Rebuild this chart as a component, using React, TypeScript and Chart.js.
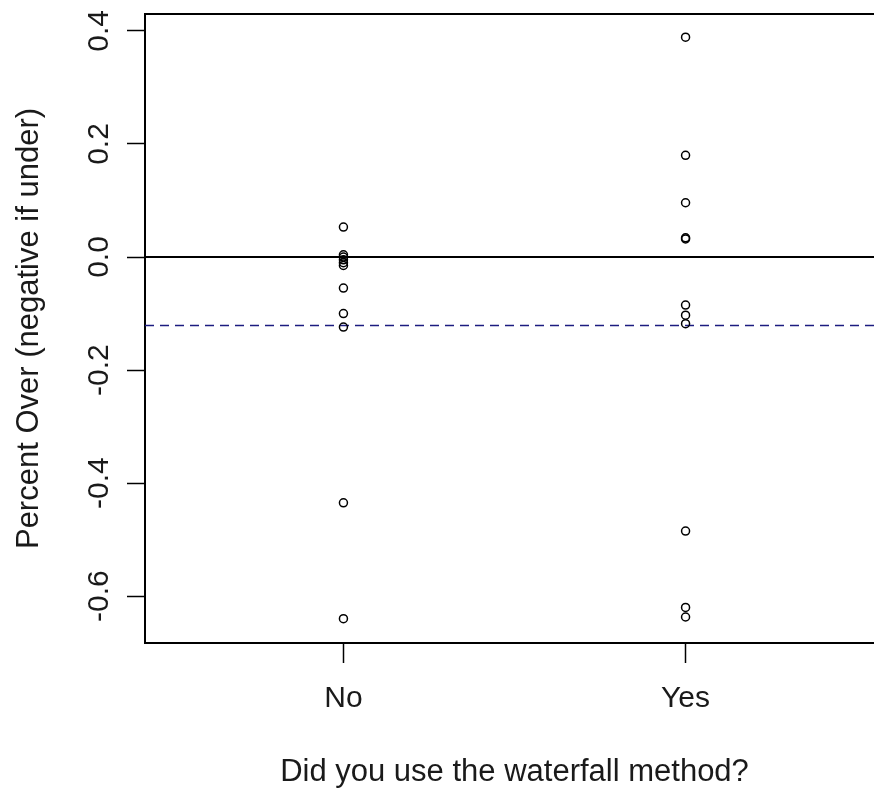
import React, { useEffect, useRef } from "react";
import { Chart, registerables } from "chart.js";

Chart.register(...registerables);

// ---- data ----
const categories = ["No", "Yes"];
const noValues = [0.053, 0.004, 0.0, -0.005, -0.01, -0.015, -0.055, -0.1, -0.124, -0.435, -0.64];
const yesValues = [0.389, 0.18, 0.096, 0.034, 0.032, -0.085, -0.103, -0.118, -0.485, -0.62, -0.637];
const yTickValues = [-0.6, -0.4, -0.2, 0.0, 0.2, 0.4];
const yTickLabels = ["-0.6", "-0.4", "-0.2", "0.0", "0.2", "0.4"];
const zeroLine = 0;
const meanLine = -0.12;
const xTitle = "Did you use the waterfall method?";
const yTitle = "Percent Over (negative if under)";

const FONT = "'Liberation Sans', Arial, sans-serif";
const TEXT = "#1a1a1a";

const refLinesPlugin = {
  id: "refLines",
  beforeDatasetsDraw(chart: any) {
    const { ctx, chartArea, scales } = chart;
    const y = scales.y;
    ctx.save();
    // zero line
    ctx.strokeStyle = "#000";
    ctx.lineWidth = 2;
    ctx.setLineDash([]);
    let py = Math.round(y.getPixelForValue(zeroLine));
    ctx.beginPath();
    ctx.moveTo(chartArea.left, py);
    ctx.lineTo(chartArea.right, py);
    ctx.stroke();
    // mean line
    ctx.strokeStyle = "#1c1c80";
    ctx.lineWidth = 1.6;
    ctx.setLineDash([9, 6]);
    py = Math.round(y.getPixelForValue(meanLine)) + 0.5;
    ctx.beginPath();
    ctx.moveTo(chartArea.left, py);
    ctx.lineTo(chartArea.right, py);
    ctx.stroke();
    ctx.restore();
  },
  afterDraw(chart: any) {
    const { ctx, chartArea, scales } = chart;
    const y = scales.y;
    ctx.save();
    // top border of plot box
    ctx.strokeStyle = "#000";
    ctx.lineWidth = 2;
    ctx.beginPath();
    ctx.moveTo(chartArea.left - 1, chartArea.top);
    ctx.lineTo(chartArea.right + 20, chartArea.top);
    ctx.stroke();
    // rotated y tick labels
    ctx.fillStyle = TEXT;
    ctx.font = `30px ${FONT}`;
    ctx.textAlign = "center";
    ctx.textBaseline = "alphabetic";
    yTickValues.forEach((v, i) => {
      const py = y.getPixelForValue(v);
      ctx.save();
      ctx.translate(108, py);
      ctx.rotate(-Math.PI / 2);
      ctx.fillText(yTickLabels[i], 0, 0);
      ctx.restore();
    });
    // y title
    ctx.font = `31px ${FONT}`;
    ctx.save();
    ctx.translate(38, (chartArea.top + chartArea.bottom) / 2);
    ctx.rotate(-Math.PI / 2);
    ctx.fillText(yTitle, 0, 0);
    ctx.restore();
    ctx.restore();
  },
};

export default function App() {
  const ref = useRef<HTMLCanvasElement | null>(null);

  useEffect(() => {
    if (!ref.current) return;
    const chart = new Chart(ref.current, {
      type: "scatter",
      data: {
        datasets: [
          {
            label: categories[0],
            data: noValues.map((v) => ({ x: 1, y: v })),
          },
          {
            label: categories[1],
            data: yesValues.map((v) => ({ x: 2, y: v })),
          },
        ],
      },
      options: {
        responsive: false,
        animation: false,
        devicePixelRatio: 1,
        layout: { padding: { top: 14, right: 16, left: 0, bottom: 0 } },
        elements: {
          point: {
            pointStyle: "circle",
            radius: 4,
            borderWidth: 1.5,
            borderColor: "#000",
            backgroundColor: "rgba(0,0,0,0)",
            hoverRadius: 4,
          },
        },
        plugins: {
          legend: { display: false },
          tooltip: { enabled: false },
        },
        scales: {
          x: {
            type: "linear",
            min: 0.42,
            max: 2.58,
            afterBuildTicks: (scale: any) => {
              scale.ticks = categories.map((_, i) => ({ value: i + 1 }));
            },
            afterFit: (scale: any) => {
              scale.height = 147;
            },
            ticks: {
              callback: (v: any) => categories[Math.round(Number(v)) - 1] ?? "",
              font: { family: FONT, size: 30 },
              color: TEXT,
              padding: 18,
              maxRotation: 0,
              minRotation: 0,
              autoSkip: false,
            },
            grid: {
              drawOnChartArea: false,
              drawTicks: true,
              tickLength: 20,
              tickColor: "#000",
              tickWidth: 1.5,
            },
            border: { color: "#000", width: 2 },
            title: {
              display: true,
              text: xTitle,
              font: { family: FONT, size: 31 },
              color: TEXT,
              padding: { top: 0, bottom: -1 },
            },
          },
          y: {
            type: "linear",
            min: -0.683,
            max: 0.43,
            afterBuildTicks: (scale: any) => {
              scale.ticks = yTickValues.map((v) => ({ value: v }));
            },
            afterFit: (scale: any) => {
              scale.width = 145;
            },
            ticks: { display: false },
            grid: {
              drawOnChartArea: false,
              drawTicks: true,
              tickLength: 18,
              tickColor: "#000",
              tickWidth: 1.5,
            },
            border: { color: "#000", width: 2 },
          },
        },
      },
      plugins: [refLinesPlugin],
    });
    return () => chart.destroy();
  }, []);

  return (
    <div
      style={{
        position: "absolute",
        left: 0,
        top: 0,
        width: 874,
        height: 790,
        overflow: "hidden",
        background: "#fff",
      }}
    >
      <canvas ref={ref} width={900} height={790} style={{ display: "block" }} />
    </div>
  );
}
